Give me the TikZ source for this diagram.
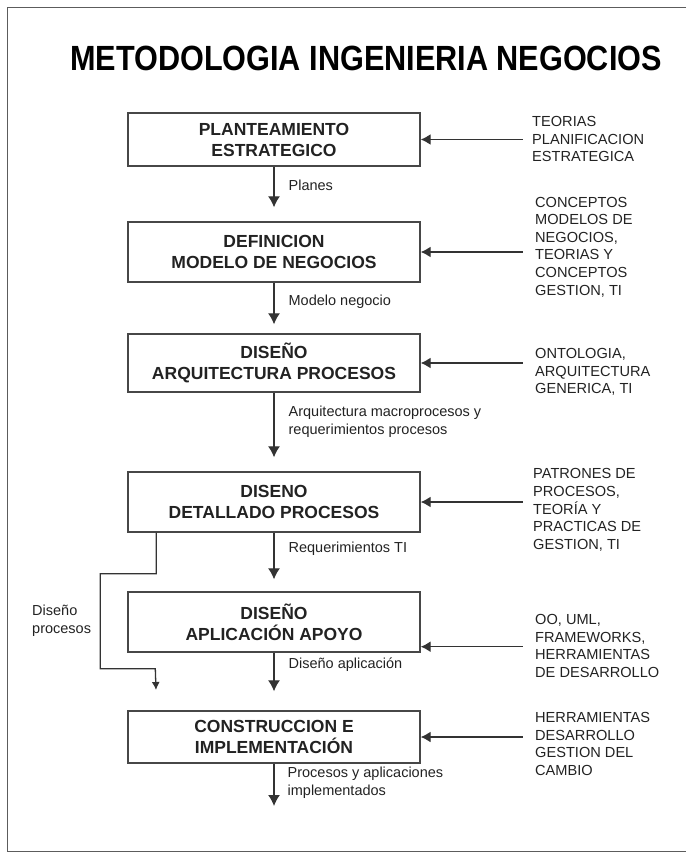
\documentclass[tikz,border=0pt]{standalone}
\usepackage{fontspec}
\setmainfont{Liberation Sans}
\usepackage{xcolor}
\usetikzlibrary{arrows.meta,positioning,calc}
\definecolor{lineGray}{HTML}{333333}
\definecolor{txtGray}{HTML}{222222}

\begin{document}
\begin{tikzpicture}[x=1pt,y=-1pt,>={Latex[length=11pt,width=12pt]},
  stage/.style={draw=lineGray!90,line width=1.4pt,minimum width=292pt,align=center,
    font=\fontsize{17.5}{21}\selectfont\bfseries,text=txtGray},
  src/.style={anchor=west,align=left,inner sep=2pt,text=txtGray,
    font=\fontsize{14.6}{17.6}\selectfont},
  lbl/.style={anchor=west,align=left,inner sep=0pt,text=txtGray,
    font=\fontsize{14.5}{18}\selectfont},
  flow/.style={->,draw=lineGray,line width=1.3pt},
  feed/.style={<-,draw=lineGray,line width=1.4pt,>={Latex[length=10pt,width=11pt]}}]
\useasboundingbox (0,0) rectangle (686,854);
% marco
\draw[lineGray!80,line width=1pt] (686,7) -- (7,7) -- (7,851) -- (686,851);
\node[font=\fontsize{35}{40}\selectfont\bfseries,xscale=.875,transform shape] (title) at (366,58) {METODOLOGIA INGENIERIA NEGOCIOS};

% etapas
\node[stage,minimum height=53pt] (plan) at (274,139.5) {PLANTEAMIENTO\\ESTRATEGICO};
\node[stage,minimum height=60pt] (model) at (274,252) {DEFINICION\\MODELO DE NEGOCIOS};
\node[stage,minimum height=58pt] (arq) at (274,363) {DISEÑO\\ARQUITECTURA PROCESOS};
\node[stage,minimum height=60pt] (det) at (274,502) {DISENO\\DETALLADO PROCESOS};
\node[stage,minimum height=60pt] (apl) at (274,622) {DISEÑO\\APLICACIÓN APOYO};
\node[stage,minimum height=52pt] (cons) at (274,737) {CONSTRUCCION E\\IMPLEMENTACIÓN};
\coordinate (fin) at (274,806);

% entradas
\node[src] (tplan) at (530,139) {TEORIAS\\PLANIFICACION\\ESTRATEGICA};
\node[src] (tmodel) at (533,247) {CONCEPTOS\\MODELOS DE\\NEGOCIOS,\\TEORIAS Y\\CONCEPTOS\\GESTION, TI};
\node[src] (tarq) at (533,372) {ONTOLOGIA,\\ARQUITECTURA\\GENERICA, TI};
\node[src] (tdet) at (531,510) {PATRONES DE\\PROCESOS,\\TEORÍA Y\\PRACTICAS DE\\GESTION, TI};
\node[src] (tapl) at (533,646) {OO, UML,\\FRAMEWORKS,\\HERRAMIENTAS\\DE DESARROLLO};
\node[src] (tcons) at (533,744) {HERRAMIENTAS\\DESARROLLO\\GESTION DEL\\CAMBIO};

\draw[feed] (plan.east) -- ++(102,0);
\draw[feed] (model.east) -- ++(102,0);
\draw[feed] (arq.east) -- ++(102,0);
\draw[feed] (det.east) -- ++(102,0);
\draw[feed] ([yshift=6pt]apl.south east) -- ++(102,0);
\draw[feed] (cons.east) -- ++(102,0);

% flujo principal
\draw[flow] (plan) -- ([yshift=14pt]model.north) node[lbl,pos=.45,xshift=14pt] (lplan) {Planes};
\draw[flow] (model) -- ([yshift=9pt]arq.north) node[lbl,pos=.45,xshift=14pt] (lmodel) {Modelo negocio};
\draw[flow] (arq) -- ([yshift=14pt]det.north) node[lbl,pos=.45,xshift=14pt] (larq) {Arquitectura macroprocesos y\\requerimientos procesos};
\draw[flow] (det) -- ([yshift=12pt]apl.north) node[lbl,pos=.35,xshift=14pt] (ldet) {Requerimientos TI};
\draw[flow] (apl) -- ([yshift=19pt]cons.north) node[lbl,pos=.3,xshift=14pt] (lapl) {Diseño aplicación};
\draw[flow] (cons) -- (fin) node[lbl,pos=.45,xshift=13pt] (lcons) {Procesos y aplicaciones\\implementados};

% retorno diseño procesos
\coordinate (dpend) at (156,690);
\draw[lineGray,line width=1.3pt,->,>={Latex[length=8pt,width=8pt]}]
  ([xshift=29pt]det.south west) -- ++(0,41) -- ++(-56,0) -- ++(0,95) -- ++(55,0) -- (dpend);
\node[lbl] (ldp) at (32,621) {Diseño\\procesos};
\end{tikzpicture}
\end{document}
